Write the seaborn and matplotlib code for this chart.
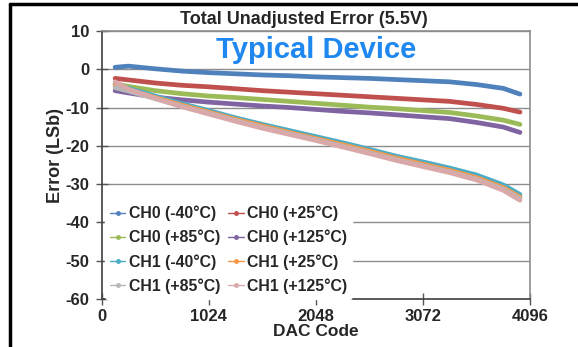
import matplotlib
matplotlib.use("Agg")
import matplotlib.pyplot as plt
from matplotlib.lines import Line2D
import pandas as pd
import seaborn as sns

dac_code = [128, 256, 512, 768, 1024, 1280, 1536, 1792, 2048, 2304, 2560, 2816, 3072, 3328, 3584, 3840, 4000]

ch0_m40 = [0.5, 0.8, 0.1, -0.5, -0.9, -1.2, -1.5, -1.7, -2.0, -2.2, -2.4, -2.7, -3.0, -3.3, -4.0, -5.0, -6.5]
ch0_p25 = [-2.4, -2.8, -3.6, -4.2, -4.6, -5.1, -5.6, -6.0, -6.4, -6.8, -7.2, -7.6, -8.0, -8.4, -9.2, -10.2, -11.2]
ch0_p85 = [-3.8, -4.5, -5.6, -6.4, -7.0, -7.4, -7.9, -8.4, -8.9, -9.4, -9.9, -10.3, -10.8, -11.3, -12.2, -13.3, -14.4]
ch0_p125 = [-5.6, -6.2, -7.3, -8.0, -8.6, -9.1, -9.6, -10.0, -10.5, -11.0, -11.4, -11.9, -12.4, -12.9, -13.9, -15.1, -16.5]
ch1_m40 = [-4.0, -5.0, -7.0, -9.0, -10.8, -12.7, -14.4, -16.0, -17.6, -19.2, -20.9, -22.7, -24.2, -25.8, -27.6, -30.2, -32.7]
ch1_p25 = [-4.3, -5.4, -7.4, -9.4, -11.2, -13.1, -14.8, -16.5, -18.1, -19.7, -21.4, -23.2, -24.8, -26.4, -28.3, -30.9, -33.4]
ch1_p85 = [-4.8, -5.7, -7.7, -9.7, -11.5, -13.4, -15.2, -16.8, -18.4, -20.1, -21.8, -23.6, -25.2, -26.8, -28.7, -31.3, -33.8]
ch1_p125 = [-3.3, -5.2, -7.6, -9.8, -11.7, -13.6, -15.4, -17.0, -18.6, -20.3, -22.0, -23.8, -25.4, -27.0, -28.9, -31.6, -34.2]

series_names = ["CH0 (-40°C)", "CH0 (+25°C)", "CH0 (+85°C)", "CH0 (+125°C)",
                "CH1 (-40°C)", "CH1 (+25°C)", "CH1 (+85°C)", "CH1 (+125°C)"]
series_values = [ch0_m40, ch0_p25, ch0_p85, ch0_p125, ch1_m40, ch1_p25, ch1_p85, ch1_p125]
colors = ["#4F81BD", "#C0504D", "#9BBB59", "#8064A2",
          "#4BACC6", "#F79646", "#B8B8B8", "#D9A9A9"]

x_ticks = [0, 1024, 2048, 3072, 4096]
y_ticks = [10, 0, -10, -20, -30, -40, -50, -60]

rows = []
for name, values in zip(series_names, series_values):
    for code, val in zip(dac_code, values):
        rows.append({"series": name, "dac": code, "error": val})
data = pd.DataFrame(rows)

sns.set_theme(style="white")
plt.rcParams["font.family"] = ["Liberation Sans", "DejaVu Sans"]
plt.rcParams["font.weight"] = "bold"
plt.rcParams["axes.unicode_minus"] = False

fig = plt.figure(figsize=(5.78, 3.47), dpi=100)
ax = fig.add_axes([0.176, 0.138, 0.741, 0.773])

ax.grid(axis="y", color="#8C8C8C", lw=1.0, zorder=0)
ax.set_axisbelow(True)

sns.lineplot(data=data, x="dac", y="error", hue="series", hue_order=series_names,
             palette=colors, lw=3.4, legend=False, ax=ax, zorder=3)

ax.set_xlim(0, 4096)
ax.set_ylim(-60, 10)
ax.set_xticks(x_ticks)
ax.set_yticks(y_ticks)
ax.tick_params(axis="both", labelsize=12, length=8, width=1, color="#555555", direction="inout",
               bottom=True, left=True)
ax.tick_params(axis="y", pad=5)
ax.tick_params(axis="x", pad=3)
for lab in ax.get_xticklabels() + ax.get_yticklabels():
    lab.set_fontweight("bold")

for side in ["top", "right"]:
    ax.spines[side].set_color("#8C8C8C")
    ax.spines[side].set_linewidth(1.2)
for side in ["left", "bottom"]:
    ax.spines[side].set_color("#404040")
    ax.spines[side].set_linewidth(1.2)

ax.set_xlabel("DAC Code", fontsize=12.5, fontweight="bold", labelpad=0)
ax.set_ylabel("Error (LSb)", fontsize=13, fontweight="bold")
ax.yaxis.set_label_coords(-0.087, 0.534)
ax.set_title("Total Unadjusted Error (5.5V)", fontsize=13, fontweight="bold", pad=5, x=0.472)
ax.text(0.5, 0.93, "Typical Device", transform=ax.transAxes, ha="center", va="center",
        fontsize=21, fontweight="bold", color="#1E88F0", zorder=5)

# legend reads row by row: reorder so matplotlib's column filling matches
order = [0, 2, 4, 6, 1, 3, 5, 7]
handles = [Line2D([0], [0], color=colors[i], lw=1.0, marker="o", markersize=2.5) for i in order]
labels = [series_names[i] for i in order]
leg = ax.legend(handles, labels, ncol=2, loc="lower left", bbox_to_anchor=(0.0, -0.01),
                fontsize=11.4, frameon=True, handlelength=1.0, handletextpad=0.2,
                columnspacing=0.5, labelspacing=0.55, borderpad=0.3, borderaxespad=0.2)
leg.get_frame().set_facecolor("white")
leg.get_frame().set_edgecolor("white")
leg.get_frame().set_alpha(1.0)
for t in leg.get_texts():
    t.set_fontweight("bold")

# outer black frame (left and top edges)
fig.add_artist(Line2D([0.018, 0.018], [0.0, 0.988], transform=fig.transFigure, color="black", lw=2.5))
fig.add_artist(Line2D([0.018, 1.0], [0.988, 0.988], transform=fig.transFigure, color="black", lw=2.5))

fig.savefig("out.png", dpi=100)
